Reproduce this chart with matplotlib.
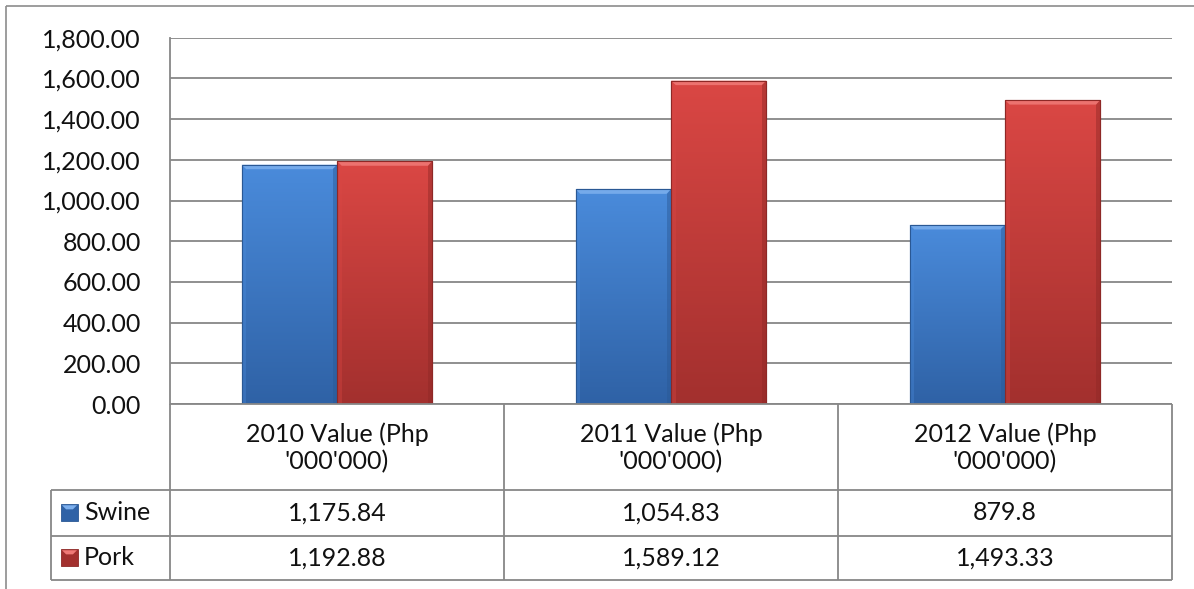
import numpy as np
import matplotlib
matplotlib.use("Agg")
import matplotlib.pyplot as plt
from matplotlib.lines import Line2D
from matplotlib.patches import Polygon, Rectangle
from matplotlib.colors import LinearSegmentedColormap

# ---------------- data ----------------
categories = ["2010 Value (Php\n'000'000)", "2011 Value (Php\n'000'000)", "2012 Value (Php\n'000'000)"]
series_names = ["Swine", "Pork"]
swine = [1175.84, 1054.83, 879.8]
pork = [1192.88, 1589.12, 1493.33]
yticks = [0, 200, 400, 600, 800, 1000, 1200, 1400, 1600, 1800]

# ---------------- style ----------------
plt.rcParams['font.family'] = ['Lato', 'DejaVu Sans']
FS = 18
GRID = '#878787'
TXT = '#111111'
styles = {
    "Swine": dict(top='#4A8BDB', bottom='#2F62A6', bevel='#7DB0EE', edge='#2A5894'),
    "Pork": dict(top='#DA4744', bottom='#A3302E', bevel='#F07A77', edge='#8E2826'),
}

W, H = 1194, 589
fig = plt.figure(figsize=(W / 100, H / 100), dpi=100)


def fx(px):
    return px / W


def fy(py):
    return 1 - py / H


def fline(x0, y0, x1, y1, color=GRID, lw=1.3):
    fig.add_artist(Line2D([fx(x0), fx(x1)], [fy(y0), fy(y1)], transform=fig.transFigure,
                          color=color, lw=lw, solid_capstyle='butt'))


ax_l, ax_r, ax_t, ax_b = 170, 1172, 37.7, 404
ax = fig.add_axes([fx(ax_l), fy(ax_b), fx(ax_r) - fx(ax_l), fy(ax_t) - fy(ax_b)])
ax.set_xlim(0, len(categories))
ax.set_ylim(0, 1800)
ax.set_autoscale_on(False)
ax.set_yticks(yticks)
ax.set_yticklabels([f"{v:,.2f}" for v in yticks], fontsize=FS, color=TXT)
ax.set_xticks([])
ax.tick_params(axis='y', length=0, pad=21)
ax.yaxis.grid(True, color=GRID, lw=1.3)
ax.set_axisbelow(True)
for s in ['top', 'right', 'bottom']:
    ax.spines[s].set_visible(False)
ax.spines['left'].set_color(GRID)
ax.spines['left'].set_linewidth(1.3)

x = np.arange(len(categories)) + 0.5
bw = 1 / 3.5
px_x = 1 / ((ax_r - ax_l) / len(categories))
px_y = 1800 / (ax_b - ax_t)
bev_x, bev_y = 4.5 * px_x, 4.5 * px_y

for offset, name, vals in [(-bw / 2, "Swine", swine), (bw / 2, "Pork", pork)]:
    st = styles[name]
    bars = ax.bar(x + offset, vals, width=bw, color=st['bottom'], edgecolor=st['edge'], lw=0.8, zorder=3)
    cmap = LinearSegmentedColormap.from_list(name, [st['bottom'], st['top']])
    for b in bars:
        x0, w, h = b.get_x(), b.get_width(), b.get_height()
        grad = np.linspace(1, 0, 100).reshape(-1, 1)
        im = ax.imshow(grad, extent=[x0, x0 + w, 0, h], cmap=cmap, aspect='auto', zorder=3.1, interpolation='bicubic')
        im.set_clip_path(b)
        # bevel top
        ax.add_patch(Polygon([[x0, h], [x0 + w, h], [x0 + w - bev_x, h - bev_y], [x0 + bev_x, h - bev_y]],
                             closed=True, facecolor=st['bevel'], edgecolor='none', alpha=0.85, zorder=3.2))
        # bevel sides
        ax.add_patch(Polygon([[x0 + w, h], [x0 + w, 0], [x0 + w - bev_x, 0], [x0 + w - bev_x, h - bev_y]],
                             closed=True, facecolor=st['edge'], edgecolor='none', alpha=0.45, zorder=3.2))
        ax.add_patch(Polygon([[x0, h], [x0, 0], [x0 + bev_x, 0], [x0 + bev_x, h - bev_y]],
                             closed=True, facecolor=st['top'], edgecolor='none', alpha=0.35, zorder=3.2))
        ax.add_patch(Rectangle((x0, 0), w, h, facecolor='none', edgecolor=st['edge'], lw=0.8, zorder=3.3))

# ---------------- outer chart border ----------------
fline(6, 6, W, 6, color='#8c8c8c', lw=1.2)
fline(6, 6, 6, H, color='#8c8c8c', lw=1.2)

# ---------------- data table ----------------
row_h = 490
row1 = 535.5
row2 = 580
leg_l = 51
col_edges = [ax_l + i * (ax_r - ax_l) / len(categories) for i in range(len(categories) + 1)]

fline(ax_l, ax_b, ax_r, ax_b)
for yy in [row_h, row1, row2]:
    fline(leg_l, yy, ax_r, yy)
for cx in col_edges:
    fline(cx, ax_b, cx, row2)
fline(leg_l, row_h, leg_l, row2)

for i, cat in enumerate(categories):
    cx = (col_edges[i] + col_edges[i + 1]) / 2
    fig.text(fx(cx), fy((ax_b + row_h) / 2 + 1), cat, ha='center', va='center', fontsize=FS,
             color=TXT, linespacing=1.2)
    fig.text(fx(cx), fy((row_h + row1) / 2), f"{swine[i]:,}", ha='center', va='center', fontsize=FS, color=TXT)
    fig.text(fx(cx), fy((row1 + row2) / 2), f"{pork[i]:,}", ha='center', va='center', fontsize=FS, color=TXT)

for name, (y0, y1) in zip(series_names, [(row_h, row1), (row1, row2)]):
    st = styles[name]
    cy = (y0 + y1) / 2
    sz = 17
    lx = 61
    top_y = cy - sz / 2
    fig.add_artist(Rectangle((fx(lx), fy(cy + sz / 2)), sz / W, sz / H, transform=fig.transFigure,
                             facecolor=st['bottom'], edgecolor=st['edge'], lw=0.6))
    fig.add_artist(Polygon([[fx(lx + 1), fy(top_y + 1)], [fx(lx + sz - 1), fy(top_y + 1)],
                            [fx(lx + sz * 0.7), fy(top_y + sz * 0.3)], [fx(lx + sz * 0.3), fy(top_y + sz * 0.3)]],
                           closed=True, transform=fig.transFigure, facecolor=st['bevel'], edgecolor='none'))
    fig.text(fx(84), fy(cy), name, ha='left', va='center', fontsize=FS, color=TXT)

fig.savefig("out.png", dpi=100, facecolor='white')
